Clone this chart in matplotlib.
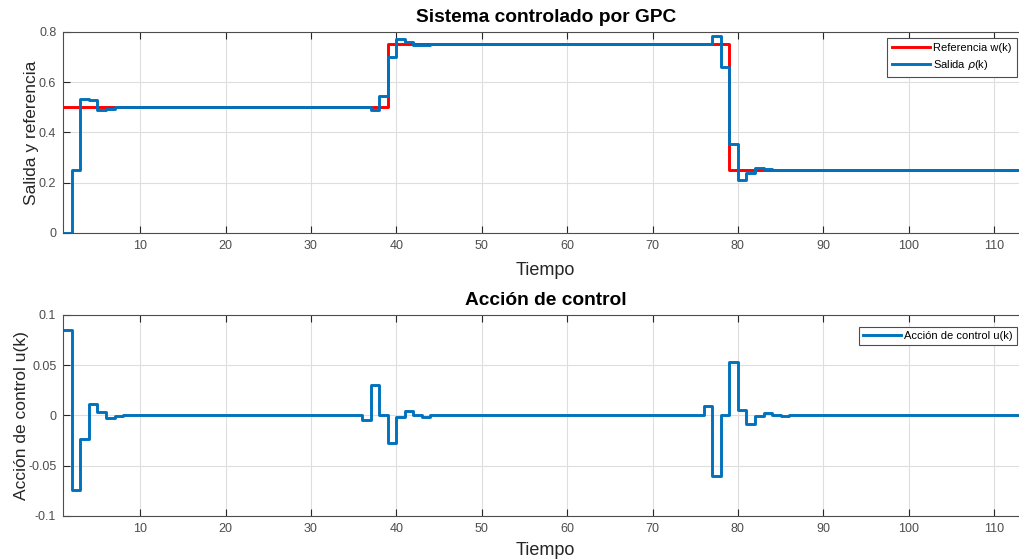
import numpy as np
import matplotlib
matplotlib.use("Agg")
import matplotlib.pyplot as plt

plt.rcParams['font.family'] = ['Liberation Sans', 'DejaVu Sans']
plt.rcParams['mathtext.fontset'] = 'dejavusans'

# Sample instants
k = np.arange(1, 115)

# Reference w(k)
referencia = ([0.5] * 38) + ([0.75] * 40) + ([0.25] * 36)

# Plant output rho(k)
salida = ([0.0, 0.25, 0.535, 0.53, 0.49, 0.495, 0.5]
          + [0.5] * 29
          + [0.49, 0.545, 0.70, 0.77, 0.76, 0.746, 0.747]
          + [0.75] * 33
          + [0.782, 0.66, 0.355, 0.212, 0.237, 0.257, 0.253]
          + [0.25] * 31)

# Control action u(k)
control = ([0.085, -0.074, -0.0235, 0.0115, 0.0035, -0.0025, -0.001, 0.0005]
           + [0.0] * 27
           + [-0.005, 0.030, 0.0, -0.027, -0.002, 0.004, 0.0005, -0.0012]
           + [0.0] * 32
           + [0.009, -0.060, 0.0, 0.053, 0.0055, -0.008, -0.0005, 0.002, 0.0, -0.0005]
           + [0.0] * 29)

xticks = [10, 20, 30, 40, 50, 60, 70, 80, 90, 100, 110]
yticks_top = [0, 0.2, 0.4, 0.6, 0.8]
yticks_bot = [-0.1, -0.05, 0, 0.05, 0.1]

RED = '#ff0000'
BLUE = '#0072bd'
AXC = '#262626'
TICKC = '#4d4d4d'

fig = plt.figure(figsize=(10.19, 5.60), dpi=100)
ax1 = fig.add_axes([0.0621, 0.584, 0.947, 0.359])
ax2 = fig.add_axes([0.0621, 0.0786, 0.947, 0.359])


def style(ax):
    ax.set_xlim(1, 114)
    ax.set_xticks(xticks)
    ax.grid(True, color='#dedede', linewidth=0.8)
    ax.set_axisbelow(True)
    ax.tick_params(direction='in', top=True, right=True, length=5,
                   width=0.8, colors=AXC, labelcolor=TICKC, labelsize=9,
                   pad=5)
    for s in ax.spines.values():
        s.set_color('#4d4d4d')
        s.set_linewidth(0.8)


ax1.step(k, referencia, where='post', color=RED, lw=2.1, label='Referencia w(k)')
ax1.step(k, salida, where='post', color=BLUE, lw=2.1, label=r'Salida $\rho$(k)')
style(ax1)
ax1.set_ylim(0, 0.8)
ax1.set_yticks(yticks_top)
ax1.set_yticklabels(['0', '0.2', '0.4', '0.6', '0.8'])
ax1.set_title('Sistema controlado por GPC', fontsize=13.8, fontweight='bold', pad=7)
ax1.set_xlabel('Tiempo', fontsize=13, color=AXC, labelpad=7)
ax1.set_ylabel('Salida y referencia', fontsize=12.5, color=AXC, labelpad=0)
leg1 = ax1.legend(loc='upper right', bbox_to_anchor=(0.988, 0.97), fontsize=8,
                  handlelength=3.4, fancybox=False, framealpha=1,
                  edgecolor='#4d4d4d', borderaxespad=0, borderpad=0.45,
                  labelspacing=0.45, handletextpad=0.3)
leg1.get_frame().set_linewidth(0.8)

ax2.step(k, control, where='post', color=BLUE, lw=2.1, label='Acción de control u(k)')
style(ax2)
ax2.set_ylim(-0.1, 0.1)
ax2.set_yticks(yticks_bot)
ax2.set_yticklabels(['-0.1', '-0.05', '0', '0.05', '0.1'])
ax2.set_title('Acción de control', fontsize=13.8, fontweight='bold', pad=7)
ax2.set_xlabel('Tiempo', fontsize=13, color=AXC, labelpad=5)
ax2.set_ylabel('Acción de control u(k)', fontsize=12.5, color=AXC, labelpad=-1)
leg2 = ax2.legend(loc='upper right', bbox_to_anchor=(0.988, 0.94), fontsize=8,
                  handlelength=3.4, fancybox=False, framealpha=1,
                  edgecolor='#4d4d4d', borderaxespad=0, borderpad=0.35,
                  handletextpad=0.3)
leg2.get_frame().set_linewidth(0.8)

fig.savefig('out.png', dpi=100)
